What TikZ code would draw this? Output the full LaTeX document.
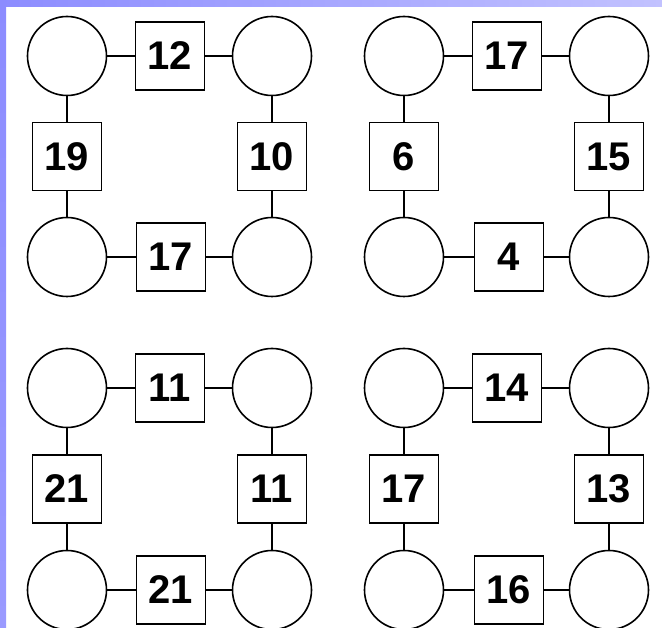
\documentclass[tikz,border=0pt]{standalone}
\usepackage{fontspec}
\setmainfont{Liberation Sans}
\definecolor{stripA}{HTML}{8C8CFF}
\definecolor{stripB}{HTML}{C2C2FF}
\definecolor{stripC}{HTML}{9A9AFF}
\begin{document}
\begin{tikzpicture}[x=1pt,y=-1pt,
  ring/.style={circle,draw=black,line width=1.6pt,minimum size=79pt,inner sep=0pt},
  numbox/.style={rectangle,draw=black,line width=1.6pt,minimum width=69pt,minimum height=68pt,inner sep=0pt,
    font=\fontsize{40}{40}\selectfont\bfseries},
  link/.style={line width=1.6pt}]
\useasboundingbox (0,0) rectangle (662,628);
\fill[white] (0,0) rectangle (662,628);
\shade[left color=stripA,right color=stripB] (0,0) rectangle (662,7);
\shade[top color=stripA,bottom color=stripC] (0,0) rectangle (6,628);
\foreach \p/\xa/\xb/\ya/\yb/\xt/\xu/\t/\l/\r/\b in {
  a/67/272/56/257/170/171/12/19/10/17,
  b/404/609/56/257/507/509/17/6/15/4,
  c/67/272/388/590/170/171/11/21/11/21,
  d/404/609/388/590/507/509/14/17/13/16}{
  \node[ring] (\p1) at (\xa,\ya) {};
  \node[ring] (\p2) at (\xb,\ya) {};
  \node[ring] (\p3) at (\xa,\yb) {};
  \node[ring] (\p4) at (\xb,\yb) {};
  \node[numbox] (\p t) at (\xt,\ya) {\t};
  \node[numbox] (\p l) at (\xa,{(\ya+\yb)/2}) {\l};
  \node[numbox] (\p r) at (\xb,{(\ya+\yb)/2}) {\r};
  \node[numbox] (\p b) at (\xu,\yb) {\b};
  \draw[link] (\p1) -- (\p t) -- (\p2);
  \draw[link] (\p3) -- (\p b) -- (\p4);
  \draw[link] (\p1) -- (\p l) -- (\p3);
  \draw[link] (\p2) -- (\p r) -- (\p4);
}
\end{tikzpicture}
\end{document}
